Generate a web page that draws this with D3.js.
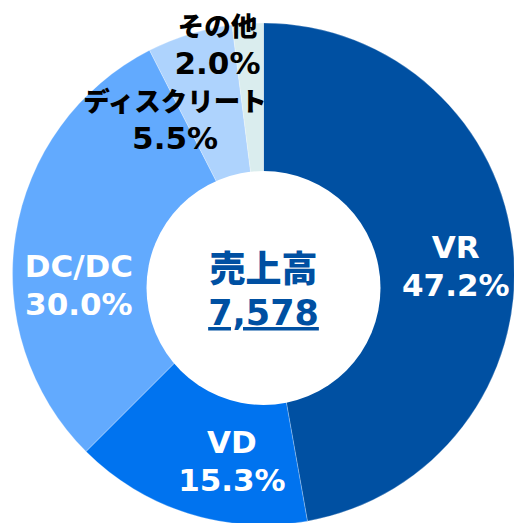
<!DOCTYPE html>
<html>
<head>
<meta charset="utf-8">
<script src="https://cdn.jsdelivr.net/npm/d3@7"></script>
<style>
  html, body { margin: 0; padding: 0; background: #fff; }
</style>
</head>
<body>
<svg id="chart"></svg>
<script>
// data
const categories = ["VR", "VD", "DC/DC", "ディスクリート", "その他"];
const shares = [47.2, 15.3, 30.0, 5.5, 2.0];
const colors = ["#0050A2", "#0073EF", "#62AAFE", "#AED3FD", "#DAEDEE"];
const labelColors = ["#fff", "#fff", "#fff", "#000", "#000"];
const totalLabel = "売上高";
const totalValue = "7,578";

const width = 514;
const height = 523;

// label nudges away from the arc centroid (layout only)
const nudges = {
    "VR": [1, 1],
    "VD": [26, -4],
    "DC/DC": [5, 33],
    "ディスクリート": [-32, 21],
    "その他": [-34, -46]
};

const svg = d3.select("#chart")
    .attr("width", width)
    .attr("height", height);

const cx = 263.5, cy = 274;
const outerR = 251;

const data = categories.map((c, i) => ({ name: c, value: shares[i], color: colors[i], text: labelColors[i] }));

const pie = d3.pie()
    .sort(null)
    .value(d => d.value);

const arc = d3.arc()
    .innerRadius(90)
    .outerRadius(outerR);

const labelArc = d3.arc()
    .innerRadius(192)
    .outerRadius(192);

const g = svg.append("g").attr("transform", `translate(${cx},${cy})`);

const arcs = pie(data);

g.selectAll("path")
    .data(arcs)
    .enter().append("path")
    .attr("d", arc)
    .attr("fill", d => d.data.color)
    .attr("stroke", "#fff")
    .attr("stroke-opacity", 0.5)
    .attr("stroke-width", 0.5);

// white centre disc (slightly lower than the ring centre, as in the original)
svg.append("circle")
    .attr("cx", cx)
    .attr("cy", 288)
    .attr("r", 117)
    .attr("fill", "#fff");

// slice labels
const isLatin = s => /^[\x00-\x7F]+$/.test(s);
const labels = g.selectAll("g.label")
    .data(arcs)
    .enter().append("g")
    .attr("class", "label")
    .attr("transform", d => {
        const [x, y] = labelArc.centroid(d);
        const n = nudges[d.data.name];
        return `translate(${x + n[0]},${y + n[1]})`;
    });

labels.append("text")
    .attr("text-anchor", "middle")
    .attr("fill", d => d.data.text)
    .style("font-family", d => isLatin(d.data.name) ? "'DejaVu Sans', sans-serif" : "'Noto Sans CJK JP', sans-serif")
    .style("font-weight", d => isLatin(d.data.name) ? "bold" : "900")
    .style("font-size", d => isLatin(d.data.name) ? "31px" : "26.5px")
    .text(d => d.data.name);

labels.append("text")
    .attr("text-anchor", "middle")
    .attr("y", 38)
    .attr("fill", d => d.data.text)
    .style("font-family", "'DejaVu Sans', sans-serif")
    .style("font-weight", "bold")
    .style("font-size", "31px")
    .text(d => d.data.value.toFixed(1) + "%");

// centre text
svg.append("text")
    .attr("x", cx)
    .attr("y", 282)
    .attr("text-anchor", "middle")
    .attr("fill", "#0050A2")
    .style("font-family", "'Noto Sans CJK JP', sans-serif")
    .style("font-weight", "900")
    .style("font-size", "36px")
    .text(totalLabel);

svg.append("text")
    .attr("x", cx)
    .attr("y", 325)
    .attr("text-anchor", "middle")
    .attr("fill", "#0050A2")
    .style("font-family", "'DejaVu Sans', sans-serif")
    .style("font-weight", "bold")
    .style("font-size", "35px")
    .style("text-decoration", "underline")
    .text(totalValue);
</script>
</body>
</html>
